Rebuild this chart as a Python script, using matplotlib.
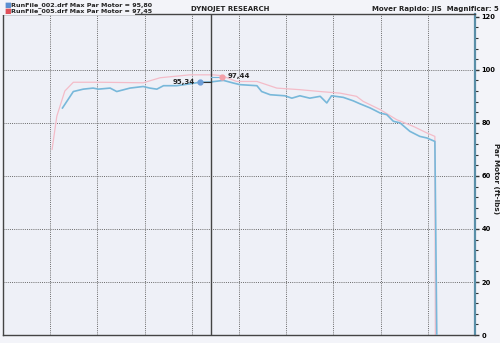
import matplotlib.pyplot as plt
from matplotlib.patches import Rectangle
import numpy as np

# run curves, x in grid divisions (no x labels on the sheet), y in ft-lbs
blue_x = [1.26, 1.49, 1.70, 1.91, 2.02, 2.27, 2.41, 2.69, 2.97, 3.11, 3.26, 3.40, 3.68,
          3.96, 4.17, 4.39, 4.67, 4.88, 5.02, 5.38, 5.48, 5.66, 5.97, 6.12, 6.29, 6.50,
          6.72, 6.86, 6.96, 7.21, 7.42, 7.56, 7.78, 7.99, 8.13, 8.27, 8.41, 8.62, 8.83,
          8.98, 9.15, 9.19]
blue_y = [85.6, 91.8, 92.7, 93.1, 92.7, 93.1, 91.8, 93.1, 93.7, 93.1, 92.7, 94.0, 94.0,
          94.7, 95.3, 95.4, 96.0, 95.0, 94.4, 94.0, 91.8, 90.6, 90.2, 89.3, 90.2, 89.3,
          90.0, 87.5, 90.2, 89.6, 88.3, 87.2, 85.6, 83.7, 83.1, 80.6, 80.0, 76.8, 74.9,
          74.3, 73.0, 0.0]

pink_x = [1.04, 1.14, 1.31, 1.49, 2.06, 2.97, 3.33, 3.96, 4.45, 4.63, 4.95, 5.38, 5.80,
          6.29, 6.72, 7.14, 7.49, 7.63, 7.99, 8.34, 8.69, 8.98, 9.15, 9.16]
pink_y = [70.0, 82.5, 92.0, 95.3, 95.3, 95.1, 97.0, 98.1, 98.1, 97.8, 95.6, 95.6, 93.1,
          92.5, 91.8, 91.2, 90.0, 88.1, 85.0, 81.2, 78.7, 76.2, 74.9, 0.0]

cursor_x = 4.41
blue_pt = (4.17, 95.34)
pink_pt = (4.63, 97.44)
legend_lines = ["RunFile_002.drf Max Par Motor = 95,80",
                "RunFile_005.drf Max Par Motor = 97,45"]
y_ticks = [0, 20, 40, 60, 80, 100, 120]

BLUE = '#78b8da'
PINK = '#f4bcc8'
PAPER = '#f3f4f9'

fig = plt.figure(figsize=(5.0, 3.43), dpi=100)
fig.patch.set_facecolor(PAPER)
ax = fig.add_axes([0.006, 0.023, 0.944, 0.936])
ax.set_facecolor('#eef0f7')

ax.set_xlim(0, 10)
ax.set_ylim(0, 121)

# dotted grid
for gx in range(1, 10):
    ax.axvline(gx, color='#6a6a6a', lw=0.7, ls=(0, (1, 1.2)), zorder=1)
for gy in y_ticks[1:-1]:
    ax.axhline(gy, color='#6a6a6a', lw=0.7, ls=(0, (1, 1.2)), zorder=1)

ax.plot(pink_x, pink_y, color=PINK, lw=0.9, zorder=2)
ax.plot(blue_x, blue_y, color=BLUE, lw=1.2, zorder=3)

# cursor
ax.axvline(cursor_x, color='#444444', lw=1.0, zorder=4)
ax.plot([blue_pt[0], cursor_x], [blue_pt[1], blue_pt[1]], color='#333333', lw=0.8, zorder=4)
ax.plot([cursor_x, pink_pt[0]], [pink_pt[1], pink_pt[1]], color=BLUE, lw=0.8, zorder=4)
ax.plot(*blue_pt, 'o', ms=3.5, color='#6f9fd8', zorder=5)
ax.plot(*pink_pt, 'o', ms=3.5, color='#f4a0a8', zorder=5)
ax.text(blue_pt[0] - 0.1, blue_pt[1], '95,34', fontsize=5, fontweight='bold',
        ha='right', va='center', color='#222222')
ax.text(pink_pt[0] + 0.12, pink_pt[1] + 0.3, '97,44', fontsize=5, fontweight='bold',
        ha='left', va='center', color='#222222')

# axes frame
ax.set_xticks([])
for s in ['left', 'top', 'bottom']:
    ax.spines[s].set_color('#444444')
    ax.spines[s].set_linewidth(1.0)
ax.spines['right'].set_color('#5a8fa8')
ax.spines['right'].set_linewidth(1.6)

ax.yaxis.tick_right()
ax.set_yticks(y_ticks)
ax.set_yticks(np.arange(0, 121, 4), minor=True)
ax.tick_params(axis='y', which='major', length=3, width=1, color='#333333',
               labelsize=4.8, pad=1.5, direction='out')
ax.tick_params(axis='y', which='minor', length=2, width=0.8, color='#333333', direction='out')
for lab in ax.get_yticklabels():
    lab.set_fontweight('bold')
fig.text(0.992, 0.48, 'Par Motor (ft-lbs)', rotation=270, fontsize=5.2,
         fontweight='bold', ha='center', va='center', color='#222222')

# header
fig.text(0.46, 0.975, 'DYNOJET RESEARCH', fontsize=5, fontweight='bold',
         ha='center', va='center', color='#222222')
fig.text(0.998, 0.975, 'Mover Rapido: JIS  Magnificar: 5', fontsize=5,
         fontweight='bold', ha='right', va='center', color='#222222')

# legend block sits over the top-left of the frame
fig.add_artist(Rectangle((0.0, 0.955), 0.27, 0.045, transform=fig.transFigure,
                         fc=PAPER, ec='none', zorder=3))
for i, (txt, col) in enumerate(zip(legend_lines, ['#5b8fd0', '#e0505a'])):
    yy = 0.986 - i * 0.018
    fig.text(0.008, yy, '\u25a0', fontsize=5, color=col, ha='left', va='center', zorder=4)
    fig.text(0.022, yy, txt, fontsize=4.6, fontweight='bold', ha='left', va='center',
             color='#222222', zorder=4)

fig.savefig('out.png', dpi=100, facecolor=fig.get_facecolor())
